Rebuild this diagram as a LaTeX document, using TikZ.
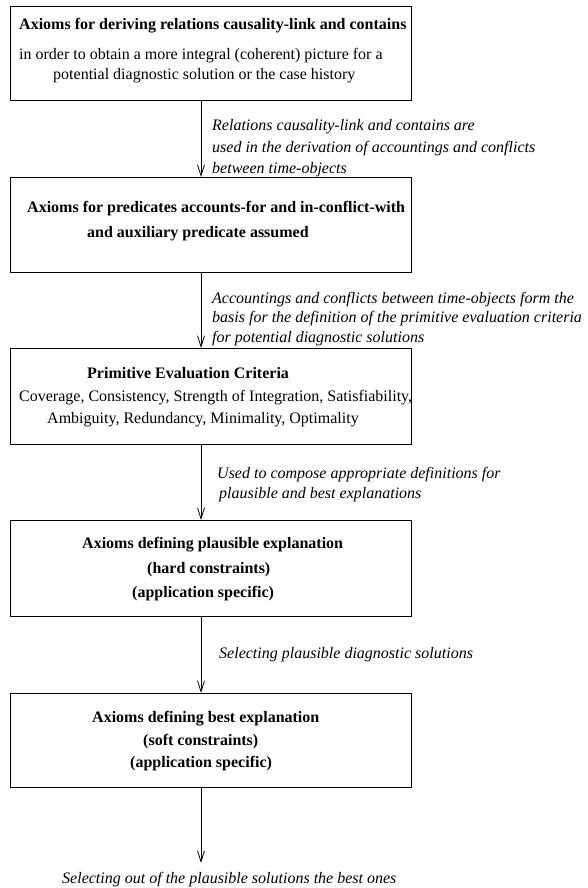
\documentclass[tikz,border=0pt]{standalone}
\usepackage{fontspec}
\setmainfont{Liberation Serif}
\usetikzlibrary{arrows.meta}
\begin{document}
\begin{tikzpicture}[x=1pt,y=-1pt,
  box/.style={draw, line width=0.8pt, anchor=north west, minimum width=401pt, inner sep=0pt},
  txt/.style={anchor=base west, inner sep=0pt, font=\fontsize{16}{19}\selectfont},
  tb/.style={txt, font=\fontsize{16}{19}\selectfont\bfseries},
  ti/.style={txt, font=\fontsize{16}{19}\selectfont\itshape},
  arr/.style={line width=0.8pt, -{Straight Barb[length=11pt,width=7pt,line width=0.8pt]}}
]
\useasboundingbox (0,0) rectangle (587,888);
% boxes
\node[box, minimum height=94pt] (b1) at (10,6) {};
\node[box, minimum height=95pt] (b2) at (10,177) {};
\node[box, minimum height=96pt] (b3) at (10,348) {};
\node[box, minimum height=96pt] (b4) at (10,520) {};
\node[box, minimum height=94pt] (b5) at (10,693) {};
\coordinate (ax) at (201,0);
\coordinate (end) at (201,863);
% box texts
\node[tb] (t1a) at (19,30) {Axioms for deriving relations causality-link and contains};
\node[txt] (t1b) at (19,60) {in order to obtain a more integral (coherent) picture for a};
\node[txt] (t1c) at (53,80) {potential diagnostic solution or the case history};
\node[tb] (t2a) at (27,212) {Axioms for predicates accounts-for and in-conflict-with};
\node[tb] (t2b) at (87,237) {and auxiliary predicate assumed};
\node[tb] (t3a) at (87,378) {Primitive Evaluation Criteria};
\node[txt] (t3b) at (19,401) {Coverage, Consistency, Strength of Integration, Satisfiability,};
\node[txt] (t3c) at (47,423) {Ambiguity, Redundancy, Minimality, Optimality};
\node[tb] (t4a) at (82,548) {Axioms defining plausible explanation};
\node[tb] (t4b) at (147,573) {(hard constraints)};
\node[tb] (t4c) at (132,597) {(application specific)};
\node[tb] (t5a) at (92,722) {Axioms defining best explanation};
\node[tb] (t5b) at (143,745) {(soft constraints)};
\node[tb] (t5c) at (130,767) {(application specific)};
% connector labels
\node[ti] (l1a) at (212,130) {Relations causality-link and contains are};
\node[ti] (l1b) at (212,152) {used in the derivation of accountings and conflicts};
\node[ti] (l1c) at (212,173) {between time-objects};
\node[ti] (l2a) at (212,303) {Accountings and conflicts between time-objects form the};
\node[ti] (l2b) at (212,322) {basis for the definition of the primitive evaluation criteria};
\node[ti] (l2c) at (212,342) {for potential diagnostic solutions};
\node[ti] (l3a) at (217,478) {Used to compose appropriate definitions for};
\node[ti] (l3b) at (219,498) {plausible and best explanations};
\node[ti] (l4a) at (219,658) {Selecting plausible diagnostic solutions};
\node[ti] (l5a) at (62,883) {Selecting out of the plausible solutions the best ones};
% connectors
\draw[arr] (ax |- b1.south) -- (ax |- b2.north);
\draw[arr] (ax |- b2.south) -- (ax |- b3.north);
\draw[arr] (ax |- b3.south) -- (ax |- b4.north);
\draw[arr] (ax |- b4.south) -- (ax |- b5.north);
\draw[arr] (ax |- b5.south) -- (end);
\end{tikzpicture}
\end{document}
